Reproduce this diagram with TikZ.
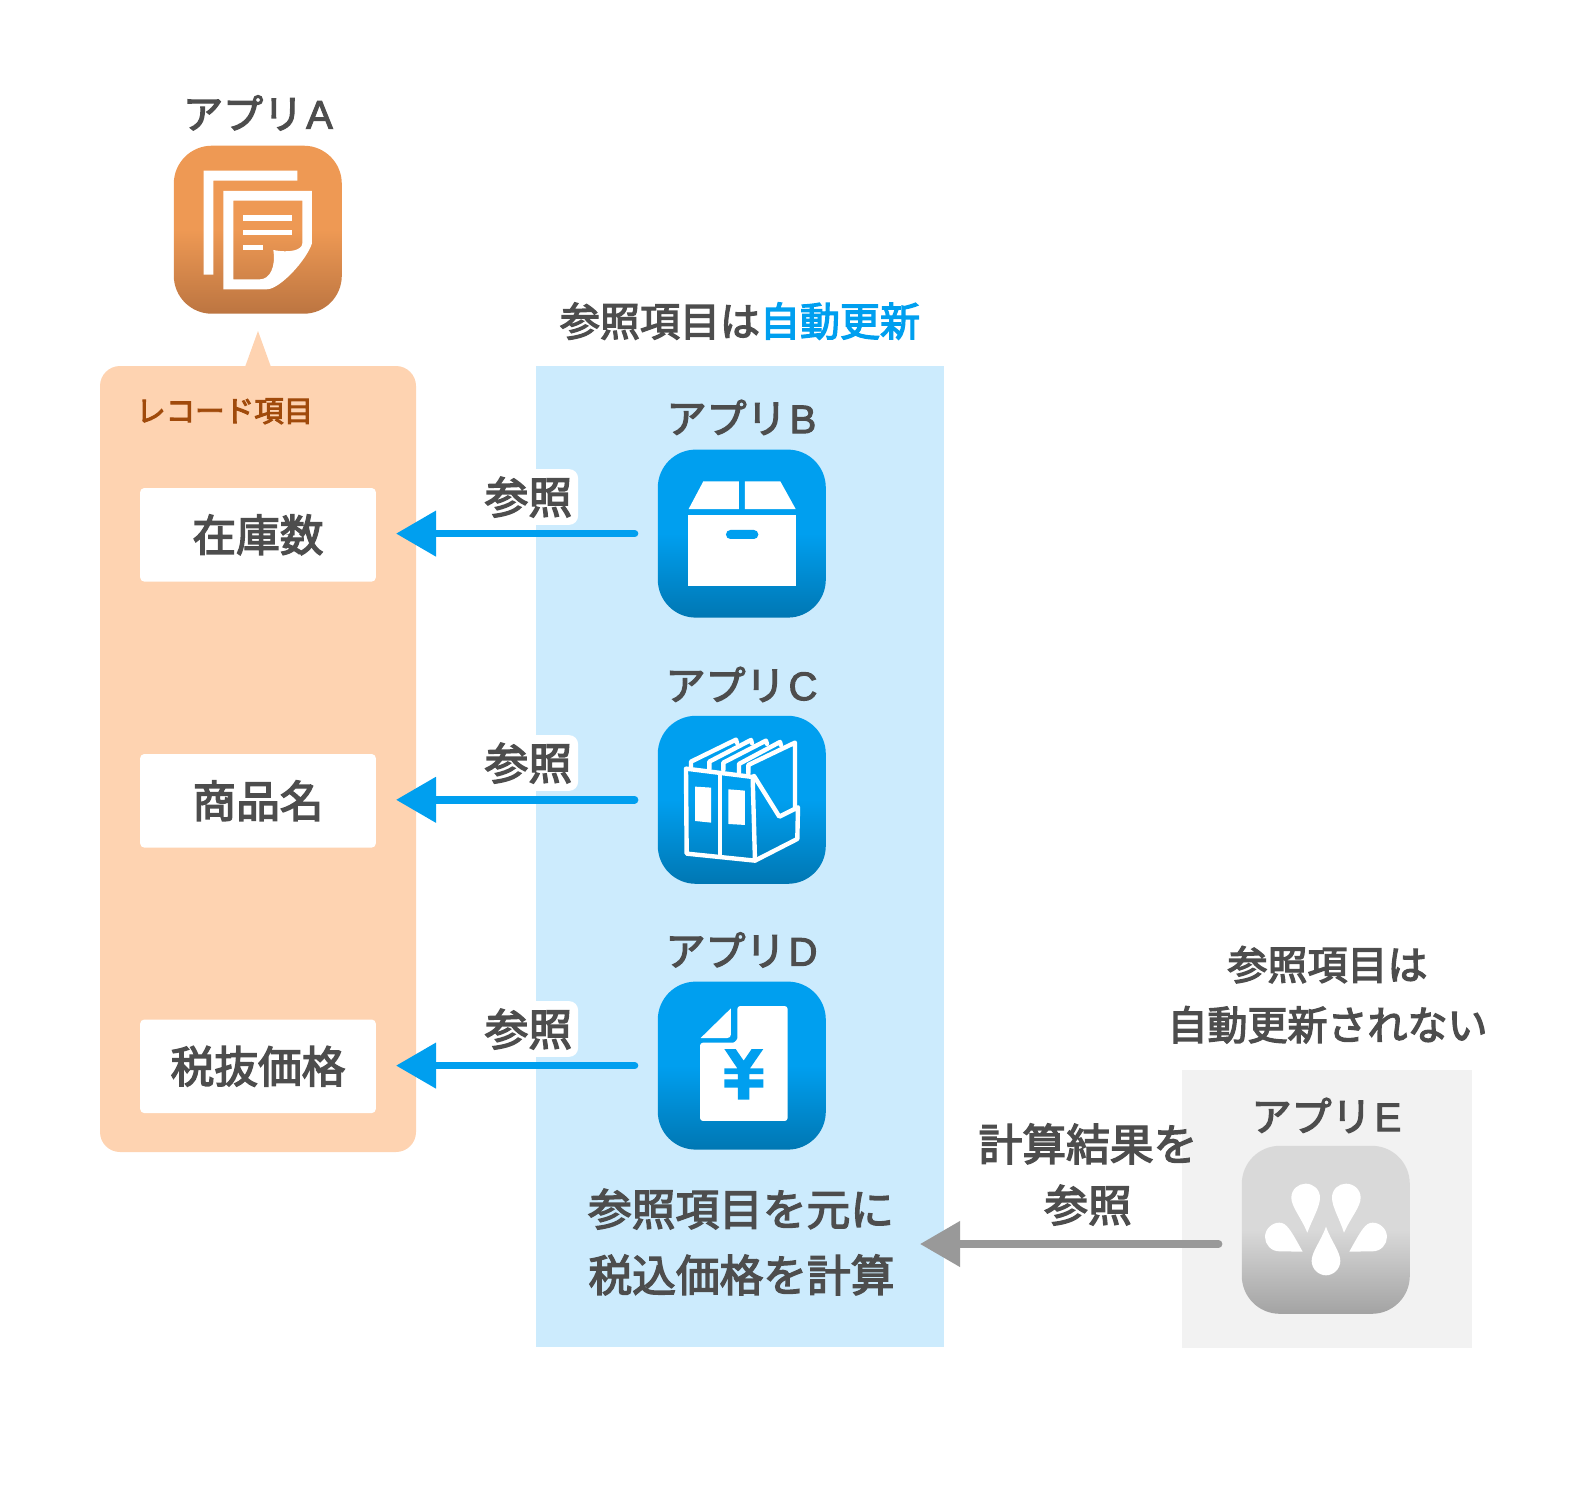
\documentclass[tikz,border=0pt]{standalone}
\usepackage{fontspec}
\usepackage{xcolor}
\usetikzlibrary{arrows.meta}
\newfontfamily\cjk[FakeBold=3.2]{Noto Sans CJK JP}
\newfontfamily\latn[FakeBold=2.5]{Liberation Sans}

\definecolor{txtgray}{HTML}{4D4D4D}
\definecolor{refblue}{HTML}{009FEF}
\definecolor{refgray}{HTML}{999999}
\definecolor{panelblue}{HTML}{CCEBFD}
\definecolor{panelgray}{HTML}{F2F2F2}
\definecolor{panelpeach}{HTML}{FED3B1}
\definecolor{itembrown}{HTML}{A04A0B}
\definecolor{orangetop}{HTML}{EE9954}
\definecolor{orangelow}{HTML}{BC7541}
\definecolor{bluelow}{HTML}{0077B3}
\definecolor{graytop}{HTML}{D9D9D9}
\definecolor{graylow}{HTML}{A3A3A3}

\pgfdeclareverticalshading{logoorange}{100bp}{color(0bp)=(orangelow);color(25bp)=(orangelow);color(50bp)=(orangetop);color(100bp)=(orangetop)}
\pgfdeclareverticalshading{logoblue}{100bp}{color(0bp)=(bluelow);color(25bp)=(bluelow);color(50bp)=(refblue);color(100bp)=(refblue)}
\pgfdeclareverticalshading{logogray}{100bp}{color(0bp)=(graylow);color(25bp)=(graylow);color(50bp)=(graytop);color(100bp)=(graytop)}

\tikzset{
 txtbase/.style={text=txtgray, inner sep=0pt},
 txtM/.style={txtbase, font=\cjk\fontsize{40}{48}\selectfont, text height=35.2pt, text depth=4.8pt},
 txtL/.style={txtbase, font=\cjk\fontsize{43.7}{52}\selectfont, text height=38.4pt, text depth=5.3pt},
 appicon/.style={rectangle, rounded corners=38pt, minimum size=168pt, inner sep=0pt},
 fieldbox/.style={txtL, fill=white, rounded corners=4pt, minimum width=235.6pt, minimum height=93.5pt},
 refnote/.style={txtL, fill=white, rounded corners=9pt, inner sep=6pt},
 refarrow/.style={-{Triangle[length=40pt,width=44pt]}, line width=7.5pt, line cap=round, shorten <=23pt},
 iconline/.style={white, line width=4.4pt, line join=round, line cap=round},
}

\begin{document}
\begin{tikzpicture}[x=1pt, y=-1pt]
 \useasboundingbox (0,0) rectangle (1572,1494);

 % panels
 \fill[panelpeach, rounded corners=20pt] (100,366) rectangle (416,1152);
 \fill[panelpeach] (245,367) -- (258,331) -- (271,367) -- cycle;
 \fill[panelblue] (536,366) rectangle (943.5,1346.5);
 \fill[panelgray] (1182,1070) rectangle (1472,1347.5);

 \node[appicon, shading=logoorange] (appA) at (257.8,229.7) {};
 \node[appicon, shading=logoblue] (appB) at (741.8,533.6) {};
 \node[appicon, shading=logoblue] (appC) at (741.8,799.8) {};
 \node[appicon, shading=logoblue] (appD) at (741.8,1065.6) {};
 \node[appicon, shading=logogray] (appE) at (1325.8,1229.8) {};

 % icon of app A
 \begin{scope}[shift={(90,80)}, scale=0.3333]
  \fill[white] (341,272) -- (622,272) -- (622,302) -- (370,302) -- (370,584) -- (341,584) -- cycle;
  \fill[white, even odd rule] (400,333) -- (666,333) -- (666,490) .. controls (650,540) and (570,628) .. (530,628) -- (400,628) -- cycle
   (430,362) -- (637,362) -- (637,490) .. controls (637,510) and (600,520) .. (550,510) .. controls (558,560) and (540,598) .. (510,598) -- (430,598) -- cycle;
  \fill[white] (459,405) rectangle (607,422);
  \fill[white] (459,450) rectangle (607,466);
  \fill[white] (459,494) rectangle (519,510);
 \end{scope}

 % icon of app B
 \begin{scope}[shift={(640,440)}, scale=0.3333]
  \fill[white] (190,124) -- (297,124) -- (297,207) -- (146,207) -- cycle;
  \fill[white] (315,124) -- (421,124) -- (467,207) -- (315,207) -- cycle;
  \fill[white] (145,225) rectangle (468,438);
  \fill[refblue, rounded corners=4.4pt] (258,270) rectangle (355,297);
 \end{scope}

 % icon of app C
 \begin{scope}[shift={(640,440)}, scale=0.3333]
  \draw[iconline] (138,986) -- (140,1241) -- (345,1262) -- (338,1011) -- cycle;
  \draw[iconline] (240,1000) -- (240,1250);
  \draw[iconline] (345,1262) -- (472,1197) -- (474,1102) -- (418,1130) -- (342,1008);
  \draw[iconline] (153,985) -- (153,965) -- (288,899) -- (291,909);
  \draw[iconline] (208,988) -- (208,965) -- (333,900) -- (336,910);
  \draw[iconline] (250,990) -- (250,968) -- (378,902) -- (381,912);
  \draw[iconline] (297,997) -- (297,972) -- (420,906) -- (423,916);
  \draw[iconline] (325,1000) -- (325,975) -- (465,908) -- (465,1106);
  \fill[white] (165,1040) -- (213,1043) -- (213,1148) -- (165,1143) -- cycle;
  \fill[white] (265,1048) -- (315,1052) -- (315,1155) -- (265,1152) -- cycle;
 \end{scope}

 % icon of app D
 \begin{scope}[shift={(640,970)}, scale=0.3333]
  \fill[white, rounded corners=3pt] (292,108) -- (443,108) -- (443,453) -- (180,453) -- (180,218) -- (270,218) .. controls (284,218) and (292,208) .. (292,196) -- cycle;
  \fill[white] (273,115) -- (273,193) .. controls (273,200) and (268,204) .. (262,204) -- (182,204) -- cycle;
  \fill[refblue] (253,237) -- (287,237) -- (311,272) -- (335,237) -- (370,237) -- (330,295) -- (370,295) -- (370,312) -- (328,312) -- (328,328) -- (370,328) -- (370,353) -- (328,353) -- (328,389) -- (294,389) -- (294,353) -- (253,353) -- (253,328) -- (294,328) -- (294,312) -- (253,312) -- (253,295) -- (292,295) -- cycle;
 \end{scope}

 % icon of app E
 \begin{scope}[shift={(1170,1060)}, scale=0.3333]
  \fill[white] (412,518) .. controls (392,470) and (364,440) .. (364,413) .. controls (364,388) and (385,371) .. (407,371) .. controls (430,371) and (450,388) .. (450,413) .. controls (450,440) and (428,475) .. (412,518) -- cycle;
  \fill[white] (522,518) .. controls (508,475) and (486,440) .. (486,413) .. controls (486,388) and (506,371) .. (528,371) .. controls (551,371) and (572,388) .. (572,413) .. controls (572,440) and (544,470) .. (522,518) -- cycle;
  \fill[white] (468,500) .. controls (452,545) and (425,575) .. (425,603) .. controls (425,627) and (446,646) .. (468,646) .. controls (490,646) and (511,627) .. (511,603) .. controls (511,575) and (484,545) .. (468,500) -- cycle;
  \fill[white] (398,575) -- (328,574) .. controls (303,574) and (285,553) .. (285,531) .. controls (285,507) and (306,488) .. (328,488) .. controls (350,488) and (362,510) .. (398,575) -- cycle;
  \fill[white] (538,575) -- (608,574) .. controls (633,574) and (651,553) .. (651,531) .. controls (651,507) and (630,488) .. (608,488) .. controls (586,488) and (574,510) .. (538,575) -- cycle;
 \end{scope}

 \node[fieldbox] (stockbox) at (258,534.8) {在庫数};
 \node[fieldbox] (namebox) at (258,800.8) {商品名};
 \node[fieldbox] (pricebox) at (258,1066.3) {税抜価格};

 \draw[refarrow, refblue, shorten >=20pt] (appB.west) -- (stockbox.east |- appB.west);
 \draw[refarrow, refblue, shorten >=20pt] (appC.west) -- (namebox.east |- appC.west);
 \draw[refarrow, refblue, shorten >=20pt] (appD.west) -- (pricebox.east |- appD.west);
 \coordinate (calctip) at (920,1244);
 \draw[refarrow, refgray] (appE.west |- calctip) -- (calctip);

 \node[refnote] (noteB) at (528.4,497) {参照};
 \node[refnote] (noteC) at (528.4,763) {参照};
 \node[refnote] (noteD) at (528.4,1029) {参照};

 \node[txtM] (labelA) at (258,113.5) {アプリ{\latn\kern3pt A}};
 \node[txtM] (labelB) at (741.5,418) {アプリ{\latn\kern3pt B}};
 \node[txtM] (labelC) at (741.5,685) {アプリ{\latn\kern3pt C}};
 \node[txtM] (labelD) at (741.5,950.5) {アプリ{\latn\kern3pt D}};
 \node[txtM] (labelE) at (1326.5,1116) {アプリ{\latn\kern3pt E}};

 \node[txtbase, font=\cjk\fontsize{29.5}{36}\selectfont, text=itembrown, text height=26pt, text depth=3.5pt, anchor=west] (itemhead) at (136,410.5) {レコード項目};
 \node[txtM] (autohead) at (740,321) {参照項目は\textcolor{refblue}{自動更新}};
 \node[txtL] (calcline1) at (741,1209) {参照項目を元に};
 \node[txtL] (calcline2) at (741.5,1275) {税込価格を計算};
 \node[txtL] (resline1) at (1088,1144) {計算結果を};
 \node[txtL] (resline2) at (1088,1205) {参照};
 \node[txtM] (noautoline1) at (1327.5,964.5) {参照項目は};
 \node[txtM] (noautoline2) at (1327.5,1024.7) {自動更新されない};
\end{tikzpicture}
\end{document}
